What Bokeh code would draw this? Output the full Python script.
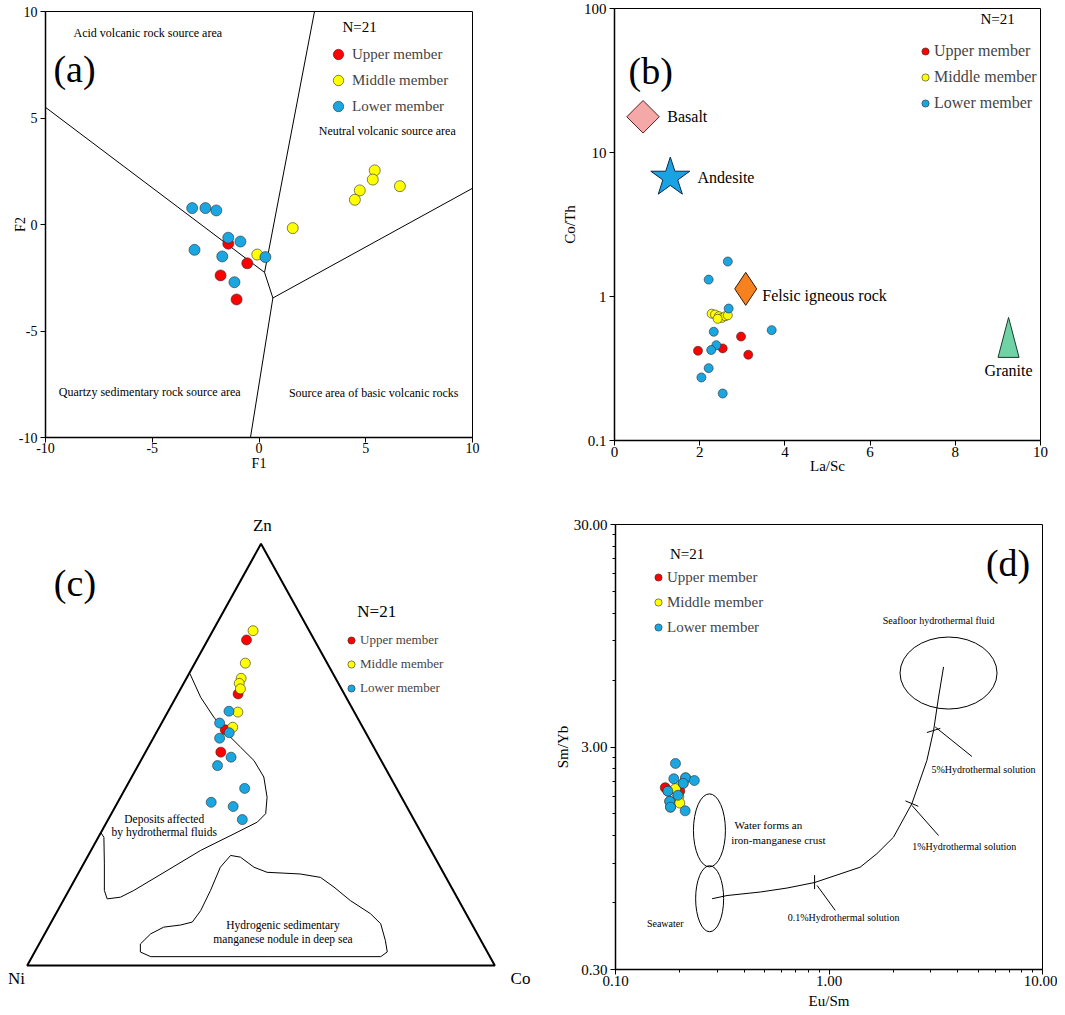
import math
from bokeh.plotting import figure
from bokeh.models import Range1d, FixedTicker, Legend, LegendItem, ColumnDataSource
from bokeh.layouts import column, row
from bokeh.core.properties import value
from bokeh.embed import file_html
from bokeh.resources import INLINE

FONT = "Liberation Serif"
RED, YELLOW, BLUE = "#ff0000", "#ffff00", "#1aa7e1"
EDGE = "#2b2b2b"
member_names = ["Upper member", "Middle member", "Lower member"]

# ---------------- (a) F1-F2 discriminant diagram ----------------
a_upper_F1 = [-1.44, -0.55, -1.80, -1.05]
a_upper_F2 = [-0.90, -1.82, -2.39, -3.52]
a_middle_F1 = [5.42, 5.33, 6.60, 4.72, 4.49, 1.58, -0.08]
a_middle_F2 = [2.54, 2.11, 1.80, 1.60, 1.16, -0.17, -1.41]
a_lower_F1 = [-3.13, -2.51, -2.00, -1.44, -0.87, -3.02, -1.72, 0.30, -1.15]
a_lower_F2 = [0.77, 0.77, 0.66, -0.62, -0.80, -1.19, -1.50, -1.53, -2.71]
a_ticks = [-10, -5, 0, 5, 10]
a_tick_labels = ["-10", "-5", "0", "5", "10"]
a_bound_F1 = [[-10, 0.26], [0.26, 2.6], [0.26, 0.65], [0.65, 10], [0.65, -0.4]]
a_bound_F2 = [[5.5, -2.25], [-2.25, 10], [-2.25, -3.45], [-3.45, 1.7], [-3.45, -10]]
a_fields = ["Acid volcanic rock source area", "Neutral volcanic source area",
            "Quartzy sedimentary rock source area", "Source area of basic volcanic rocks"]
a_fields_F1 = [-8.69, 2.80, -9.38, 1.40]
a_fields_F2 = [8.97, 4.37, -7.87, -7.92]

# ---------------- (b) La/Sc vs Co/Th ----------------
b_upper_LaSc = [2.97, 2.54, 1.96, 3.14]
b_upper_CoTh = [0.527, 0.436, 0.42, 0.394]
b_middle_LaSc = [2.28, 2.36, 2.45, 2.52, 2.60, 2.66, 2.42]
b_middle_CoTh = [0.76, 0.75, 0.73, 0.71, 0.73, 0.74, 0.70]
b_lower_LaSc = [2.66, 2.21, 2.68, 2.33, 3.69, 2.39, 2.27, 2.21, 2.04, 2.54]
b_lower_CoTh = [1.75, 1.31, 0.825, 0.569, 0.584, 0.459, 0.425, 0.318, 0.274, 0.212]
b_ref_names = ["Basalt", "Andesite", "Felsic igneous rock", "Granite"]
b_ref_LaSc = [0.67, 1.31, 3.08, 9.25]
b_ref_CoTh = [17.7, 6.7, 1.13, 0.52]
b_x_ticks = [0, 2, 4, 6, 8, 10]
b_y_ticks = [0.1, 1, 10, 100]
b_y_labels = ["0.1", "1", "10", "100"]

# ---------------- (c) Ni-Co-Zn ternary (percent) ----------------
c_upper_Zn = [77.2, 64.4, 55.9, 50.6]
c_upper_Co = [8.3, 12.9, 14.4, 16.1]
c_upper_Ni = [14.5, 22.7, 29.7, 33.3]
c_middle_Zn = [79.4, 71.7, 68.1, 66.9, 65.6, 60.1, 56.5]
c_middle_Co = [8.6, 10.8, 11.7, 11.9, 12.8, 15.0, 15.7]
c_middle_Ni = [12.0, 17.5, 20.2, 21.2, 21.6, 24.9, 27.8]
c_lower_Zn = [60.3, 57.5, 55.2, 53.9, 49.4, 47.4, 42.0, 38.7, 37.7, 34.6]
c_lower_Co = [13.0, 12.4, 15.6, 14.2, 18.9, 17.0, 25.5, 20.0, 25.2, 28.7]
c_lower_Ni = [26.7, 30.1, 29.2, 31.9, 31.7, 35.6, 32.5, 41.3, 37.1, 36.7]
# field outlines in ternary cartesian units (base 0..1, apex height 1)
c_hydro_x = [0.348, 0.371, 0.399, 0.428, 0.456, 0.485, 0.506, 0.513, 0.510, 0.492, 0.442,
             0.371, 0.299, 0.228, 0.1995, 0.171, 0.165, 0.165, 0.164, 0.157]
c_hydro_y = [0.692, 0.636, 0.589, 0.549, 0.518, 0.486, 0.447, 0.399, 0.360, 0.340, 0.312,
             0.273, 0.225, 0.178, 0.162, 0.158, 0.178, 0.241, 0.304, 0.316]
c_nodule_x = [0.435, 0.456, 0.485, 0.513, 0.549, 0.584, 0.627, 0.656, 0.691, 0.734, 0.756,
              0.766, 0.770, 0.756, 0.513, 0.264, 0.242, 0.242, 0.264, 0.292, 0.328, 0.353,
              0.371, 0.392, 0.413, 0.435]
c_nodule_y = [0.261, 0.257, 0.233, 0.221, 0.219, 0.217, 0.209, 0.186, 0.154, 0.123, 0.099,
              0.059, 0.032, 0.021, 0.021, 0.021, 0.032, 0.051, 0.075, 0.091, 0.096, 0.103,
              0.130, 0.178, 0.233, 0.261]
c_corner_names = ["Zn", "Ni", "Co"]
c_corner_x = [0.503, -0.023, 1.055]
c_corner_y = [1.043, -0.031, -0.031]
c_fields = ["Deposits affected", "by hydrothermal fluids",
            "Hydrogenic sedimentary", "manganese nodule in deep sea"]
c_fields_x = [0.293, 0.293, 0.547, 0.547]
c_fields_y = [0.348, 0.316, 0.0949, 0.0633]

# ---------------- (d) Eu/Sm vs Sm/Yb ----------------
d_upper_EuSm = [0.171, 0.200, 0.176, 0.196]
d_upper_SmYb = [1.97, 1.90, 1.90, 1.82]
d_middle_EuSm = [0.191, 0.198, 0.200, 0.2075, 0.213, 0.181, 0.1795]
d_middle_SmYb = [1.95, 1.79, 1.68, 2.06, 2.18, 1.61, 1.71]
d_lower_EuSm = [0.191, 0.1875, 0.213, 0.234, 0.2075, 0.176, 0.196, 0.1795, 0.181, 0.212]
d_lower_SmYb = [2.53, 2.16, 2.18, 2.12, 2.06, 1.90, 1.82, 1.71, 1.61, 1.55]
d_mix_EuSm = [0.2835, 0.333, 0.477, 0.636, 0.856, 1.40, 1.677, 2.005, 2.445, 2.874, 3.09, 3.26, 3.44]
d_mix_SmYb = [0.624, 0.645, 0.669, 0.697, 0.738, 0.865, 0.995, 1.18, 1.67, 2.61, 3.56, 5.03, 6.87]
d_mix_marks_EuSm = [0.856, 2.445, 3.09]
d_mix_marks_SmYb = [0.741, 1.67, 3.56]
d_field_EuSm = [3.63, 0.2754, 0.276]
d_field_SmYb = [6.45, 1.266, 0.624]
d_lead_x0 = [0.879, 2.445, 3.145]
d_lead_y0 = [0.716, 1.64, 3.69]
d_lead_x1 = [1.07, 3.26, 4.67]
d_lead_y1 = [0.553, 1.20, 2.72]
d_texts = ["Seafloor hydrothermal fluid", "5%Hydrothermal solution", "1%Hydrothermal solution",
           "0.1%Hydrothermal solution", "Seawater"]
d_texts_x = [3.26, 5.29, 4.30, 1.17, 0.171]
d_texts_y = [11.1, 2.38, 1.07, 0.516, 0.481]
d_crust_texts = ["Water forms an", "iron-manganese crust"]
d_crust_x = [0.52, 0.579]
d_crust_y = [1.34, 1.15]
d_x_ticks = [0.1, 1, 10]
d_x_labels = ["0.10", "1.00", "10.00"]
d_y_ticks = [0.3, 3, 30]
d_y_labels = ["0.30", "3.00", "30.00"]


def add_text(p, xs, ys, texts, size, align="left", baseline="middle"):
    src = ColumnDataSource(dict(x=xs, y=ys, t=texts))
    p.text(x="x", y="y", text="t", source=src, text_font=value(FONT),
           text_font_size=value(f"{size}px"), text_align=align,
           text_baseline=baseline, text_color="black")


def add_points(p, groups, size):
    rs = []
    for (xs, ys), col in zip(groups, [RED, YELLOW, BLUE]):
        rs.append(p.scatter(xs, ys, size=size, fill_color=col, line_color=EDGE, line_width=0.6))
    return rs


def add_legend(p, renderers, loc, glyph, font_size, spacing, standoff):
    items = [LegendItem(label=l, renderers=[r]) for l, r in zip(member_names, renderers)]
    leg = Legend(items=items, location=loc, glyph_width=glyph, glyph_height=glyph,
                 label_standoff=standoff, spacing=spacing, padding=0, margin=0,
                 border_line_color=None, background_fill_alpha=0,
                 label_text_font=FONT, label_text_font_size=f"{font_size}px",
                 label_height=20)
    p.add_layout(leg)


def style_axes(p, tick_size, label_size):
    for ax in p.axis:
        ax.major_label_text_font = FONT
        ax.major_label_text_font_size = f"{tick_size}px"
        ax.major_label_text_color = "black"
        ax.axis_label_text_font = FONT
        ax.axis_label_text_font_size = f"{label_size}px"
        ax.axis_label_text_font_style = "normal"
        ax.axis_label_text_color = "black"
        ax.axis_line_color = "black"
        ax.axis_line_width = 1.5
        ax.major_tick_line_color = "black"
        ax.major_tick_out = 5
        ax.major_tick_in = 0
        ax.minor_tick_line_color = None
    p.grid.visible = False
    p.outline_line_color = "black"
    p.outline_line_width = 1


# ================= panel (a) =================
pa = figure(frame_width=427, frame_height=426, x_range=Range1d(-10, 10), y_range=Range1d(-10, 10),
            title=None, output_backend="svg", toolbar_location=None,
            min_border_left=37, min_border_right=73, min_border_top=11, min_border_bottom=45)
style_axes(pa, 14, 14)
pa.xaxis.ticker = FixedTicker(ticks=a_ticks)
pa.yaxis.ticker = FixedTicker(ticks=a_ticks)
pa.xaxis.major_label_overrides = dict(zip(a_ticks, a_tick_labels))
pa.yaxis.major_label_overrides = dict(zip(a_ticks, a_tick_labels))
pa.xaxis.axis_label = "F1"
pa.yaxis.axis_label = "F2"
pa.xaxis.major_label_standoff = 0
pa.xaxis.axis_label_standoff = 0
pa.yaxis.major_label_standoff = 3
pa.yaxis.axis_label_standoff = -12
pa.multi_line(a_bound_F1, a_bound_F2, line_color="black", line_width=1)
ra = add_points(pa, [(a_upper_F1, a_upper_F2), (a_middle_F1, a_middle_F2),
                     (a_lower_F1, a_lower_F2)], 11)
add_text(pa, a_fields_F1, a_fields_F2, a_fields, 12)
add_text(pa, [-9.63], [7.32], ["(a)"], 38)
add_text(pa, [3.91], [9.25], ["N=21"], 15)
add_legend(pa, ra, (280, 318), 26, 15, 0, 1)

# ================= panel (b) =================
pb = figure(frame_width=426, frame_height=432, x_range=Range1d(0, 10), y_range=Range1d(0.1, 100),
            y_axis_type="log", title=None, output_backend="svg", toolbar_location=None,
            min_border_left=69, min_border_right=17, min_border_top=8, min_border_bottom=42)
style_axes(pb, 15, 15)
pb.xaxis.ticker = FixedTicker(ticks=b_x_ticks)
pb.yaxis.ticker = FixedTicker(ticks=b_y_ticks)
pb.yaxis.major_label_overrides = dict(zip(b_y_ticks, b_y_labels))
pb.xaxis.axis_label = "La/Sc"
pb.yaxis.axis_label = "Co/Th"
pb.xaxis.major_label_standoff = 1
pb.xaxis.axis_label_standoff = -2
pb.yaxis.major_label_standoff = 3
pb.yaxis.axis_label_standoff = 3
# reference rock compositions
pb.scatter([b_ref_LaSc[0]], [b_ref_CoTh[0]], marker="square", size=23, angle=math.pi / 4,
           fill_color="#f5a8a8", line_color="#5a1e1e", line_width=1)
pb.scatter([b_ref_LaSc[1]], [b_ref_CoTh[1]], marker="star", size=41,
           fill_color="#1aa3e3", line_color="#0d2a4a", line_width=1)
pb.scatter([b_ref_LaSc[2]], [b_ref_CoTh[2]], marker="diamond", size=33,
           fill_color="#f5821f", line_color="#3a1a00", line_width=1)
gx_unit = 10 / 426.0      # La/Sc units per pixel
gy_dec = 3 / 432.0        # decades per pixel
gcx, gcy = b_ref_LaSc[3], b_ref_CoTh[3]
pb.patch([gcx - 10.5 * gx_unit, gcx, gcx + 10.5 * gx_unit],
         [gcy * 10 ** (-20 * gy_dec), gcy * 10 ** (20 * gy_dec), gcy * 10 ** (-20 * gy_dec)],
         fill_color="#6fd3a6", line_color="#1b3b2b", line_width=1)
rb = add_points(pb, [(b_upper_LaSc, b_upper_CoTh), (b_middle_LaSc, b_middle_CoTh),
                     (b_lower_LaSc, b_lower_CoTh)], 9)
add_text(pb, [1.24, 1.95, 3.47], [17.7, 6.7, 1.01], b_ref_names[:3], 16)
add_text(pb, [9.25], [0.305], b_ref_names[3:], 16, align="center")
add_text(pb, [0.33], [36.9], ["(b)"], 38)
add_text(pb, [8.59], [84.8], ["N=21"], 15)
add_legend(pb, rb, (302, 327), 18, 16, 6, 0)

# ================= panel (c) =================
def tern(zn, co, ni):
    xs = [(c + z / 2.0) / (z + c + n) for z, c, n in zip(zn, co, ni)]
    ys = [z / (z + c + n) for z, c, n in zip(zn, co, ni)]
    return xs, ys

pc = figure(frame_width=537, frame_height=525, x_range=Range1d(-0.04, 1.1084),
            y_range=Range1d(-0.0996, 1.1454), title=None,
            output_backend="svg", toolbar_location=None,
            min_border_left=0, min_border_right=0, min_border_top=0, min_border_bottom=0,
            x_axis_location=None, y_axis_location=None)
pc.grid.visible = False
pc.outline_line_color = None
pc.patch([0, 1, 0.5], [0, 0, 1], fill_color=None, line_color="black", line_width=2)
pc.line(c_hydro_x, c_hydro_y, line_color="black", line_width=1)
pc.line(c_nodule_x, c_nodule_y, line_color="black", line_width=1)
rc = add_points(pc, [tern(c_upper_Zn, c_upper_Co, c_upper_Ni),
                     tern(c_middle_Zn, c_middle_Co, c_middle_Ni),
                     tern(c_lower_Zn, c_lower_Co, c_lower_Ni)], 10)
add_text(pc, c_fields_x, c_fields_y, c_fields, 11.5, align="center")
add_text(pc, c_corner_x, c_corner_y, c_corner_names, 17, align="center")
add_text(pc, [0.057], [0.906], ["(c)"], 38)
add_text(pc, [0.706], [0.839], ["N=21"], 17)
add_legend(pc, rc, (334, 309), 18, 13, 4, 0)

# ================= panel (d) =================
pd_ = figure(frame_width=427, frame_height=445, x_axis_type="log", y_axis_type="log",
             x_range=Range1d(0.1, 10), y_range=Range1d(0.3, 30), title=None,
             output_backend="svg", toolbar_location=None,
             min_border_left=70, min_border_right=15, min_border_top=42, min_border_bottom=44)
style_axes(pd_, 15, 15)
x_minor = [m * d for d in (0.1, 1) for m in range(2, 10)]
y_minor = [0.3 * m * d for d in (1, 10) for m in range(2, 10)]
pd_.xaxis.ticker = FixedTicker(ticks=d_x_ticks, minor_ticks=x_minor)
pd_.yaxis.ticker = FixedTicker(ticks=d_y_ticks, minor_ticks=y_minor)
pd_.xaxis.major_label_overrides = dict(zip(d_x_ticks, d_x_labels))
pd_.yaxis.major_label_overrides = dict(zip(d_y_ticks, d_y_labels))
for ax in pd_.axis:
    ax.minor_tick_line_color = "black"
    ax.minor_tick_out = 3
    ax.minor_tick_in = 0
pd_.xaxis.axis_label = "Eu/Sm"
pd_.yaxis.axis_label = "Sm/Yb"
pd_.xaxis.major_label_standoff = 1
pd_.xaxis.axis_label_standoff = 4
pd_.yaxis.major_label_standoff = 3
pd_.yaxis.axis_label_standoff = 0
pd_.ellipse(x=d_field_EuSm, y=d_field_SmYb, width=[97, 32, 28], height=[72, 73, 66],
            width_units="screen", height_units="screen", fill_color=None,
            line_color="black", line_width=1)
pd_.line(d_mix_EuSm, d_mix_SmYb, line_color="black", line_width=1)
pd_.scatter(d_mix_marks_EuSm, d_mix_marks_SmYb, marker="dash", size=14,
            angle=[math.pi / 2, -0.4, 0.3], line_color="black", line_width=1)
pd_.segment(x0=d_lead_x0, y0=d_lead_y0, x1=d_lead_x1, y1=d_lead_y1, line_color="black", line_width=1)
rd = add_points(pd_, [(d_upper_EuSm, d_upper_SmYb), (d_middle_EuSm, d_middle_SmYb),
                      (d_lower_EuSm, d_lower_SmYb)], 10)
add_text(pd_, d_texts_x, d_texts_y, d_texts, 10, align="center")
add_text(pd_, d_crust_x, d_crust_y, d_crust_texts, 11, align="center")
add_text(pd_, [6.9], [20.1], ["(d)"], 38, align="center")
add_text(pd_, [0.2166], [22.0], ["N=21"], 15, align="center")
add_legend(pd_, rd, (34, 332), 18, 15, 5, 0)

layout = column(row(column(pa), column(pb)), row(column(pc), column(pd_)), margin=(0, 0, 0, 8))
open("out.html", "w").write(file_html(layout, INLINE))
